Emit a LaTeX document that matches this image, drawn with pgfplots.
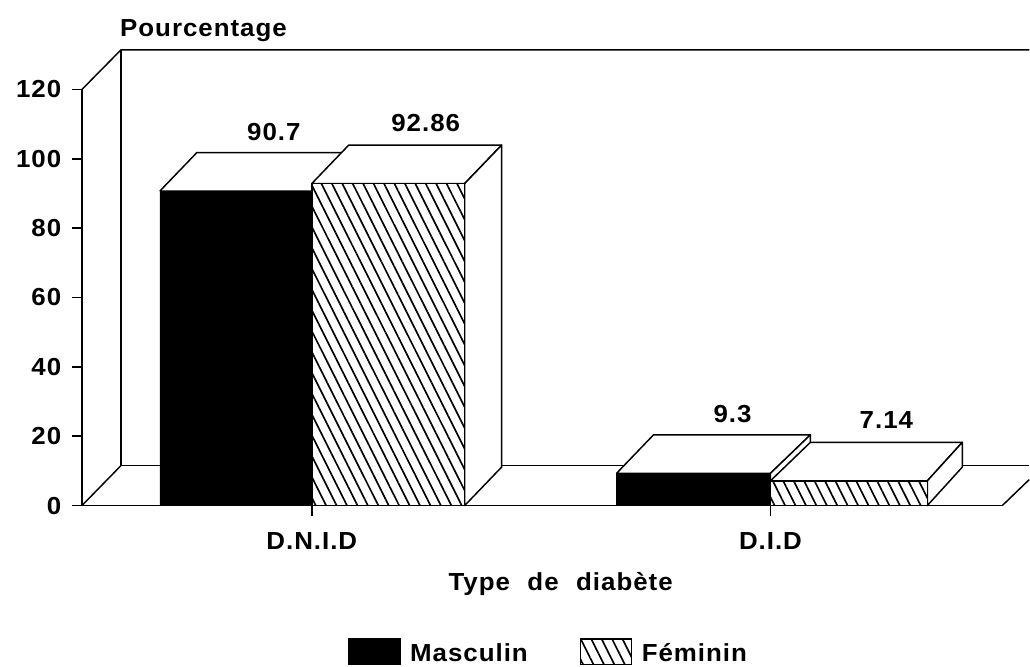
\documentclass[border=0pt]{standalone}
\usepackage{fontspec}
\setmainfont{Liberation Sans}[FakeStretch=1.05,LetterSpace=4]
\usepackage{pgfplots}
\pgfplotsset{compat=1.18}
\usetikzlibrary{patterns.meta}
\newcommand\ft{\fontsize{18.5pt}{21pt}\selectfont\bfseries}
\tikzset{
  hatch/.style={fill=white,postaction={pattern={Lines[angle=-63.4,distance=7pt,line width=1.25pt]},pattern color=black}},
  face/.style={draw=black,fill=white,line width=1.1pt,line join=round},
  lbl/.style={font=\ft,inner sep=0pt}
}
\begin{document}
\begin{tikzpicture}
\begin{axis}[
  scale only axis,
  width=690.75pt,height=312.3pt,
  xmin=82,xmax=1003,ymin=0,ymax=120,
  clip=false,
  axis lines=left,
  axis line style={-,line width=1.1pt},
  tick align=outside,
  major tick length=7.5pt,
  tick style={black,line width=1.1pt},
  xtick={312,771},
  xticklabels={D.N.I.D,D.I.D},
  ytick={0,20,40,60,80,100,120},
  /pgf/number format/assume math mode=true,
  tick label style={font=\ft},
  yticklabel style={xshift=-4.5pt},
  xticklabel style={yshift=-9.5pt},
  legend columns=2,
  legend cell align=left,
  legend style={draw=none,fill=none,at={(axis cs:348,-42.3)},anchor=west,inner sep=0pt,
    font=\ft,
    /tikz/every even column/.append style={column sep=37pt},
    /tikz/every odd column/.append style={column sep=5pt}},
  legend image code/.code={\draw[#1,line width=1.1pt] (0pt,-8pt) rectangle (38.5pt,11pt);},
]
\addlegendimage{fill=black,draw=black}
\addlegendimage{hatch,draw=black}
\addlegendentry{Masculin}
\addlegendentry{Féminin}
% back walls
\addplot[black,line width=1.1pt,forget plot] coordinates {(82,120)(121,131.4)(1030,131.4)};
\addplot[black,line width=1.1pt,forget plot] coordinates {(121,131.4)(121,11.5)(1030,11.5)};
\addplot[black,line width=1.1pt,forget plot] coordinates {(82,0)(121,11.5)};
\addplot[black,line width=1.1pt,forget plot] coordinates {(1003,0)(1030,7.5)};
% D.N.I.D Masculin 90.7
\addplot[face,forget plot] coordinates {(160,90.7)(312,90.7)(349,101.8)(197,101.8)(160,90.7)};
\addplot[face,forget plot] coordinates {(312,90.7)(349,101.8)(349,11.1)(312,0)(312,90.7)};
\addplot[draw=black,fill=black,forget plot] coordinates {(160,0)(312,0)(312,90.7)(160,90.7)(160,0)};
% D.N.I.D Feminin 92.86
\addplot[face,forget plot] coordinates {(312,92.86)(465,92.86)(502,103.96)(349,103.96)(312,92.86)};
\addplot[face,forget plot] coordinates {(465,92.86)(502,103.96)(502,11.1)(465,0)(465,92.86)};
\addplot[hatch,draw=black,line width=1.1pt,forget plot] coordinates {(312,0)(465,0)(465,92.86)(312,92.86)(312,0)};
% D.I.D Masculin 9.3
\addplot[face,forget plot] coordinates {(617,9.3)(771,9.3)(811,20.4)(654,20.4)(617,9.3)};
\addplot[face,forget plot] coordinates {(771,9.3)(811,20.4)(811,11.1)(771,0)(771,9.3)};
\addplot[draw=black,fill=black,forget plot] coordinates {(617,0)(771,0)(771,9.3)(617,9.3)(617,0)};
% D.I.D Feminin 7.14
\addplot[face,forget plot] coordinates {(771,7.14)(928,7.14)(963,18.24)(811,18.24)(771,7.14)};
\addplot[face,forget plot] coordinates {(928,7.14)(963,18.24)(963,11.1)(928,0)(928,7.14)};
\addplot[hatch,draw=black,line width=1.1pt,forget plot] coordinates {(771,0)(928,0)(928,7.14)(771,7.14)(771,0)};
% text
\node[lbl,anchor=center] at (axis cs:274,107.7) {90.7};
\node[lbl,anchor=center] at (axis cs:426,110.4) {92.86};
\node[lbl,anchor=center] at (axis cs:733,26.3) {9.3};
\node[lbl,anchor=center] at (axis cs:887,24.6) {7.14};
\node[lbl,anchor=west] at (axis cs:120,137.1) {Pourcentage};
\node[lbl,anchor=center] at (axis cs:561,-22.5) {Type\hspace{7pt} de\hspace{7pt} diabète};
% page frame
\path (axis cs:0,-46.4) rectangle (axis cs:1030,145.8);
\end{axis}
\end{tikzpicture}
\end{document}
